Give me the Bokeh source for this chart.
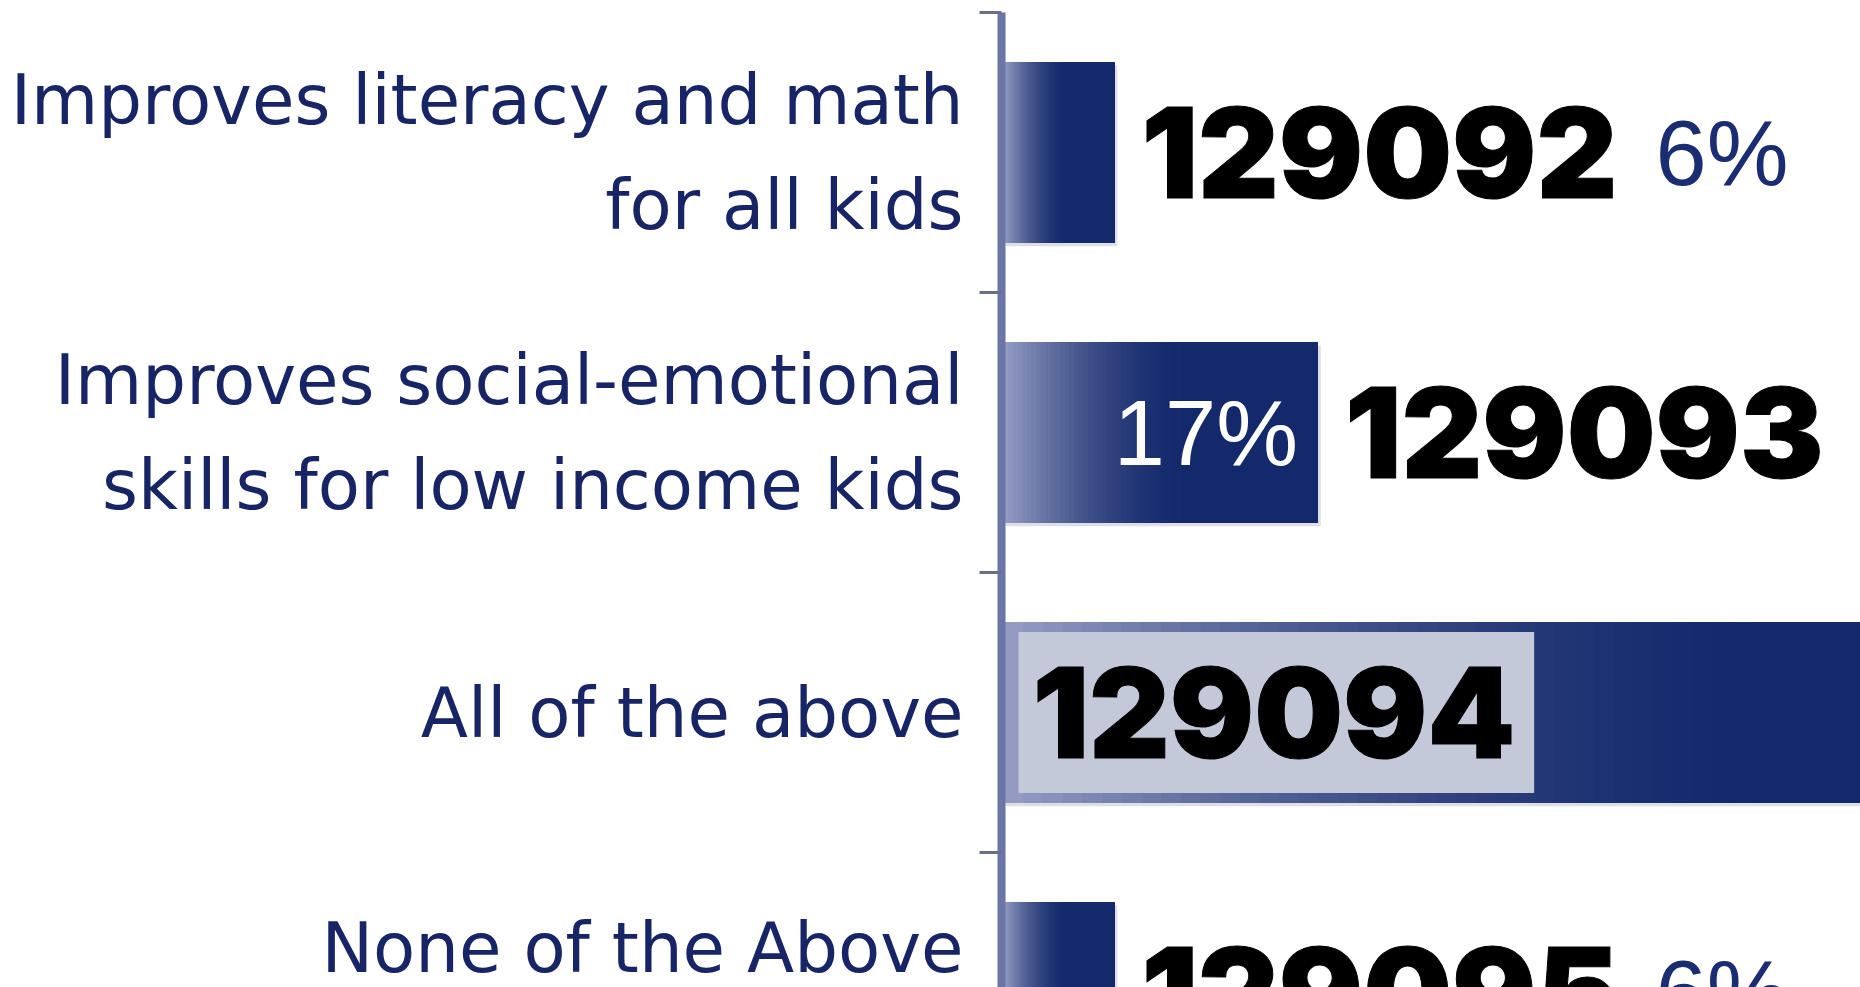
from bokeh.plotting import figure
from bokeh.models import Range1d, FixedTicker, ColumnDataSource
from bokeh.core.properties import value
from bokeh.embed import file_html
from bokeh.resources import INLINE

# ---- data ----
categories = [
    "Improves literacy and math\nfor all kids",
    "Improves social-emotional\nskills for low income kids",
    "All of the above",
    "None of the Above",
]
percent = [6, 17, 71, 6]
pct_labels = ["6%", "17%", "71%", "6%"]
question_ids = ["129092", "129093", "129094", "129095"]

# ---- layout ----
W, H = 1860, 987
FRAME_LEFT = 1001
TOP = 12
BAND_PX = 280.0
PX_PER_PCT = 18.5
y_top = -0.5
y_bottom = y_top + (H - TOP) / BAND_PX
x_start = -2.0 / PX_PER_PCT
x_end = x_start + (W - FRAME_LEFT) / PX_PER_PCT
BAR_H = 0.646

NAVY = "#172566"
p = figure(width=W, height=H, output_backend="svg", toolbar_location=None,
           x_range=Range1d(x_start, x_end), y_range=Range1d(y_bottom, y_top),
           x_axis_location=None, min_border_left=FRAME_LEFT, min_border_top=TOP,
           min_border_bottom=0, min_border_right=0)
p.grid.visible = False
p.outline_line_color = None
p.background_fill_color = "white"
p.border_fill_color = "white"

n = len(categories)
# category label positions; a category beyond the visible range is shown at the bottom edge
label_pos = [round(min(i, y_bottom - 0.007), 4) for i in range(n)]
yax = p.yaxis[0]
yax.ticker = FixedTicker(ticks=label_pos,
                         minor_ticks=[-0.4995] + [i + 0.5 for i in range(n)])
yax.major_label_overrides = {pos: c for pos, c in zip(label_pos, categories)}
yax.axis_line_width = 8
yax.axis_line_color = "#6b76a6"
yax.major_tick_out = 0
yax.major_tick_in = 0
yax.minor_tick_out = 22
yax.minor_tick_in = 0
yax.minor_tick_line_width = 3
yax.minor_tick_line_color = "#6d6f88"
yax.major_label_text_font = "DejaVu Sans"
yax.major_label_text_font_size = "69px"
yax.major_label_text_color = NAVY
yax.major_label_text_line_height = 1.32
yax.major_label_standoff = 16

# ---- bars: shadow + gradient slices ----
ys = list(range(n))
p.hbar(y=[y + 0.012 for y in ys], left=0, right=[v + 0.15 for v in percent],
       height=BAR_H, fill_color="#9ea3ba", fill_alpha=0.35, line_color=None)

light = (150, 158, 196)
dark = (19, 41, 107)

def grad(f):
    t = max(0.0, 1.0 - f / 0.6) ** 1.8
    c = [round(d + (l - d) * t) for l, d in zip(light, dark)]
    return "#%02x%02x%02x" % tuple(c)

N = 40
sl_y, sl_left, sl_right, sl_col = [], [], [], []
for k in range(N + 1):
    f = 0.6 * k / N
    for i, v in enumerate(percent):
        sl_y.append(i)
        sl_left.append(v * f)
        sl_right.append(v)
        sl_col.append(grad(f + 0.5 * 0.6 / N))
p.hbar(y="y", left="left", right="right", height=BAR_H, fill_color="color",
       line_color=None,
       source=ColumnDataSource(dict(y=sl_y, left=sl_left, right=sl_right, color=sl_col)))

# ---- labels (anchored at band top, shifted down half a band) ----
HALF = BAND_PX / 2
out_ids = dict(x=[], y=[], t=[])
in_ids = dict(x=[], y=[], t=[])
out_pct = dict(x=[], y=[], t=[])
in_pct = dict(x=[], y=[], t=[])
for i, v in enumerate(percent):
    if v >= 40:
        in_ids["x"].append(0); in_ids["y"].append(i - 0.5); in_ids["t"].append(question_ids[i])
    else:
        out_ids["x"].append(v); out_ids["y"].append(i - 0.5); out_ids["t"].append(question_ids[i])
    if v >= 10:
        in_pct["x"].append(v); in_pct["y"].append(i - 0.5); in_pct["t"].append(pct_labels[i])
    else:
        out_pct["x"].append(v); out_pct["y"].append(i - 0.5); out_pct["t"].append(pct_labels[i])

ID_FONT = value("'Inter Black', 'Inter ExtraBold', Inter")
PCT_FONT = value("Liberation Sans")
id_style = dict(text_font=ID_FONT, text_font_style="bold", text_font_size="125px",
                text_color="black", text_outline_color="black",
                text_align="left", text_baseline="middle")
p.text(x="x", y="y", text="t", source=ColumnDataSource(out_ids), x_offset=27, y_offset=HALF,
       **id_style)
p.text(x="x", y="y", text="t", source=ColumnDataSource(in_ids), x_offset=15, y_offset=HALF,
       background_fill_color="#c4c9da", padding=dict(left=14, right=19, top=35, bottom=35),
       **id_style)
p.text(x="x", y="y", text="t", source=ColumnDataSource(out_pct), x_offset=541, y_offset=HALF,
       text_font=PCT_FONT, text_font_size="92px", text_color="#1b2d72",
       text_align="left", text_baseline="middle")
p.text(x="x", y="y", text="t", source=ColumnDataSource(in_pct), x_offset=-20, y_offset=HALF,
       text_font=PCT_FONT, text_font_size="92px", text_color="white",
       text_align="right", text_baseline="middle")

open("out.html", "w").write(file_html(p, INLINE))
